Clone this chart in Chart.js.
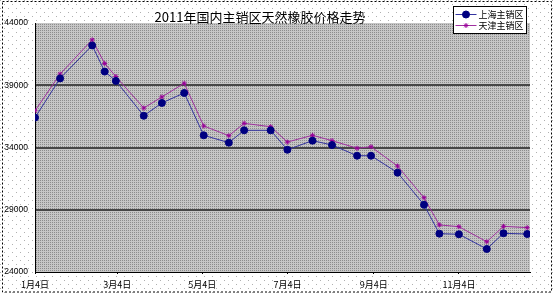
<!DOCTYPE html>
<html>
<head>
<meta charset="utf-8">
<script src="https://cdn.jsdelivr.net/npm/chart.js@4/dist/chart.umd.min.js"></script>
<style>
  html, body { margin: 0; padding: 0; background: #fff; }
  #wrap { width: 554px; height: 295px; }
</style>
</head>
<body>
<div id="wrap"><canvas id="rubber-chart" width="554" height="295"></canvas></div>
<script>
const TITLE = "2011年国内主销区天然橡胶价格走势";
const SERIES_NAMES = ["上海主销区", "天津主销区"];

// observation dates (month-day, 2011)
const DATES = [
  "1-4", "1-22", "2-14", "2-23", "3-3", "3-23", "4-5", "4-21",
  "5-5", "5-23", "6-3", "6-22", "7-4", "7-22", "8-5", "8-23",
  "9-2", "9-21", "10-10", "10-21", "11-4", "11-24", "12-6", "12-23",
];
const SHANGHAI = [
  36400, 39550, 42200, 40100, 39350, 36550, 37580, 38380,
  34980, 34390, 35380, 35380, 33820, 34550, 34200, 33340,
  33340, 31980, 29400, 27080, 27030, 25850, 27110, 27050,
];
const TIANJIN = [
  36950, 39900, 42650, 40750, 39700, 37170, 38060, 39160,
  35730, 34950, 35940, 35670, 34440, 34980, 34550, 33940,
  34060, 32510, 29970, 27780, 27640, 26430, 27670, 27560,
];
const X_TICK_DATES = ["1-4", "3-4", "5-4", "7-4", "9-4", "11-4"];
const X_TICK_LABELS = ["1月4日", "3月4日", "5月4日", "7月4日", "9月4日", "11月4日"];
const Y_TICKS = [24000, 29000, 34000, 39000, 44000];

const BASE_DATE = new Date(2011, 0, 4);

function dayOffset(md) {
  const [m, d] = md.split("-").map(Number);
  return Math.round((new Date(2011, m - 1, d) - BASE_DATE) / 86400000);
}

function makePattern(size, base, dot, dots) {
  const c = document.createElement("canvas");
  c.width = size;
  c.height = size;
  const g = c.getContext("2d");
  g.fillStyle = base;
  g.fillRect(0, 0, size, size);
  g.fillStyle = dot;
  dots.forEach(([x, y]) => g.fillRect(x, y, 1, 1));
  return c;
}

const xTickValues = X_TICK_DATES.map(dayOffset);
const lastDay = dayOffset(DATES[DATES.length - 1]);

const FONT_FAMILY = "'Liberation Sans', 'Noto Sans CJK SC', sans-serif";
const CJK_FONT = "'Noto Sans CJK SC', 'Liberation Sans', sans-serif";

const backgroundPlugin = {
  id: "excelBackground",
  beforeDraw(chart) {
    const ctx = chart.ctx;
    const area = chart.chartArea;
    ctx.save();
    const outer = ctx.createPattern(makePattern(8, "#ffffff", "#b0b0b0", [[0, 0], [4, 4]]), "repeat");
    ctx.fillStyle = outer;
    ctx.fillRect(0, 0, chart.width, chart.height);
    const inner = ctx.createPattern(makePattern(2, "#c6c6c6", "#8c8c8c", [[0, 0]]), "repeat");
    ctx.fillStyle = inner;
    ctx.fillRect(area.left, area.top, area.right - area.left, area.bottom - area.top);
    ctx.restore();
  },
  afterDraw(chart) {
    const ctx = chart.ctx;
    ctx.save();
    // dotted outer frame
    ctx.strokeStyle = "#000";
    ctx.lineWidth = 1;
    ctx.setLineDash([2, 2]);
    ctx.strokeRect(2.5, 1.5, 549, 290.5);
    ctx.setLineDash([]);

    // title
    ctx.fillStyle = "#000";
    ctx.font = "13px " + CJK_FONT;
    ctx.textAlign = "center";
    ctx.textBaseline = "middle";
    ctx.fillText(TITLE, 260, 17);

    // legend
    const box = { x: 453.5, y: 6.5, w: 73, h: 27 };
    ctx.fillStyle = "#fff";
    ctx.fillRect(box.x, box.y, box.w, box.h);
    ctx.strokeStyle = "#000";
    ctx.strokeRect(box.x, box.y, box.w, box.h);
    chart.data.datasets.forEach((ds, i) => {
      const y = box.y + 8 + i * 11;
      ctx.strokeStyle = ds.borderColor;
      ctx.lineWidth = 1;
      ctx.beginPath();
      ctx.moveTo(box.x + 2, y);
      ctx.lineTo(box.x + 23, y);
      ctx.stroke();
      ctx.fillStyle = ds.pointBackgroundColor;
      ctx.strokeStyle = ds.pointBorderColor;
      Chart.helpers.drawPoint(ctx, {
        pointStyle: ds.pointStyle,
        radius: ds.pointRadius,
        borderWidth: 1,
        rotation: 0,
      }, box.x + 12.5, y);
      ctx.fillStyle = "#000";
      ctx.font = "9px " + CJK_FONT;
      ctx.textAlign = "left";
      ctx.fillText(SERIES_NAMES[i], box.x + 25, y);
    });
    ctx.restore();
  },
};

new Chart(document.getElementById("rubber-chart"), {
  type: "line",
  data: {
    datasets: [
      {
        label: SERIES_NAMES[0],
        data: DATES.map((d, i) => ({ x: dayOffset(d), y: SHANGHAI[i] })),
        borderColor: "#3333a0",
        borderWidth: 1,
        pointStyle: "circle",
        pointRadius: 3.5,
        pointBackgroundColor: "#000080",
        pointBorderColor: "#000080",
        pointBorderWidth: 1,
        tension: 0,
      },
      {
        label: SERIES_NAMES[1],
        data: DATES.map((d, i) => ({ x: dayOffset(d), y: TIANJIN[i] })),
        borderColor: "#a030a0",
        borderWidth: 1,
        pointStyle: "star",
        pointRadius: 2.5,
        pointBackgroundColor: "#990099",
        pointBorderColor: "#990099",
        pointBorderWidth: 1,
        tension: 0,
      },
    ],
  },
  options: {
    responsive: false,
    animation: false,
    events: [],
    layout: { padding: { top: 23, right: 24, bottom: 0, left: 0 } },
    plugins: {
      legend: { display: false },
      title: { display: false },
      tooltip: { enabled: false },
    },
    scales: {
      x: {
        type: "linear",
        min: 0,
        max: lastDay + 2,
        afterBuildTicks(scale) {
          scale.ticks = xTickValues.map((value) => ({ value }));
        },
        afterFit(scale) {
          scale.height = 23;
        },
        grid: {
          drawOnChartArea: false,
          drawTicks: true,
          tickLength: 2,
          color: "#000",
        },
        border: { display: true, color: "#000", width: 1 },
        ticks: {
          autoSkip: false,
          maxRotation: 0,
          padding: 5,
          color: "#000",
          font: { family: CJK_FONT, size: 9 },
          callback: (value) => X_TICK_LABELS[xTickValues.indexOf(value)] ?? "",
        },
      },
      y: {
        min: Y_TICKS[0],
        max: Y_TICKS[Y_TICKS.length - 1],
        afterBuildTicks(scale) {
          scale.ticks = Y_TICKS.map((value) => ({ value }));
        },
        afterFit(scale) {
          scale.width = 35;
        },
        grid: {
          drawTicks: false,
          lineWidth: 2,
          color: (ctx) => {
            const v = ctx.tick && ctx.tick.value;
            return v > Y_TICKS[0] && v < Y_TICKS[Y_TICKS.length - 1] ? "#474747" : "rgba(0,0,0,0)";
          },
        },
        border: { display: true, color: "#000", width: 1 },
        ticks: {
          padding: 7,
          color: "#000",
          font: { family: FONT_FAMILY, size: 8.5 },
          callback: (value) => String(value),
        },
      },
    },
  },
  plugins: [backgroundPlugin],
});
</script>
</body>
</html>
